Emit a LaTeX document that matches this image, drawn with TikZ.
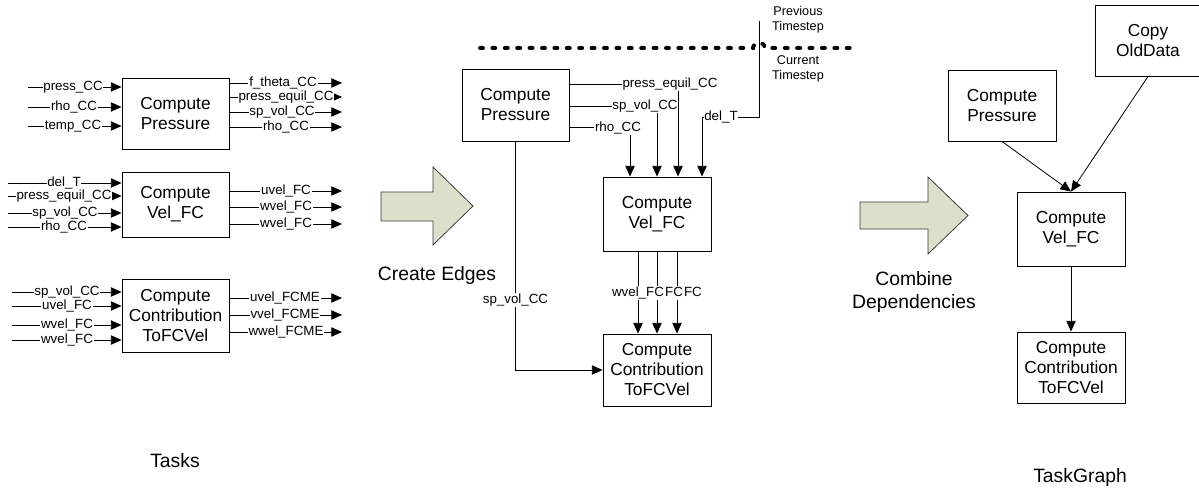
\documentclass[tikz,border=0pt]{standalone}
\usepackage{fontspec}
\setmainfont{Liberation Sans}
\usetikzlibrary{arrows.meta}
\definecolor{arrowfill}{RGB}{220,223,202}
\definecolor{arrowline}{RGB}{60,60,60}

% input arrow into a task box: name, box, x start, y, label x, text
\newcommand{\taskin}[6]{%
  \coordinate (#1) at (#3,#4);
  \draw[arr] (#1) -- (#1 -| #2.west);
  \node[lbl] (#1-l) at (#5,#4) {#6};}
% output arrow out of a task box: name, box, x end, y, label x, text
\newcommand{\taskout}[6]{%
  \coordinate (#1) at (#3,#4);
  \draw[arr] (#1 -| #2.east) -- (#1);
  \node[lbl] (#1-l) at (#5,#4) {#6};}

\begin{document}
\begin{tikzpicture}[x=0.75pt,y=-0.75pt,
  task/.style={draw, line width=0.65pt, align=center, inner sep=0pt,
               font=\fontsize{13}{15}\selectfont},
  lbl/.style={fill=white, inner sep=0.6pt, font=\fontsize{10}{11}\selectfont},
  conn/.style={line width=0.6pt},
  arr/.style={conn, -{Triangle[length=8pt,width=7pt]}},
  caption/.style={align=center, font=\fontsize{14.5}{17.25}\selectfont},
  tstep/.style={align=center, font=\fontsize{9.5}{11.25}\selectfont},
  bigarrow/.style={fill=arrowfill, draw=arrowline, line width=0.6pt, line join=miter}]

\useasboundingbox (0,0) rectangle (1199,491);

% ---------------- tasks ----------------
\node[task, minimum width=80.25pt, minimum height=53.25pt] (lP) at (175.5,113.5) {Compute\\Pressure};
\node[task, minimum width=80.25pt, minimum height=48.75pt] (lV) at (175.5,204.5) {Compute\\Vel\_FC};
\node[task, minimum width=80.25pt, minimum height=54.75pt] (lC) at (175.5,315.5) {Compute\\Contribution\\ToFCVel};

\taskin{pi1}{lP}{28}{87}{73}{press\_CC}
\taskin{pi2}{lP}{28}{107}{74}{rho\_CC}
\taskin{pi3}{lP}{28}{126}{73}{temp\_CC}
\taskout{po1}{lP}{342}{83}{283}{f\_theta\_CC}
\taskout{po2}{lP}{342}{97}{286}{press\_equil\_CC}
\taskout{po3}{lP}{342}{112}{282}{sp\_vol\_CC}
\taskout{po4}{lP}{342}{127}{286}{rho\_CC}

\taskin{vi1}{lV}{8}{183}{64}{del\_T}
\taskin{vi2}{lV}{8}{196}{64}{press\_equil\_CC}
\taskin{vi3}{lV}{8}{213}{65}{sp\_vol\_CC}
\taskin{vi4}{lV}{8}{227}{64}{rho\_CC}
\taskout{vo1}{lV}{342}{191}{286}{uvel\_FC}
\taskout{vo2}{lV}{342}{207}{286}{wvel\_FC}
\taskout{vo3}{lV}{342}{224}{286}{wvel\_FC}

\taskin{ci1}{lC}{12}{292}{67}{sp\_vol\_CC}
\taskin{ci2}{lC}{12}{306}{67}{uvel\_FC}
\taskin{ci3}{lC}{12}{325}{67}{wvel\_FC}
\taskin{ci4}{lC}{12}{340}{67}{wvel\_FC}
\taskout{co1}{lC}{342}{298}{285}{uvel\_FCME}
\taskout{co2}{lC}{342}{315}{285}{vvel\_FCME}
\taskout{co3}{lC}{342}{332}{286}{wwel\_FCME}

\node[caption] (tasks) at (175,461) {Tasks};

% ---------------- create edges ----------------
\draw[bigarrow] (381,192) -- (433,192) -- (433,167) -- (473,206) -- (433,245)
  -- (433,221) -- (381,221) -- cycle;
\node[caption] (create) at (437,276) {Create Edges};

% timestep boundary
\draw[line width=3pt, dash pattern=on 2.2pt off 7.1pt, line cap=round]
  (480,48) -- (753,48) .. controls (754,41) and (764,41) .. (765,48) -- (850,48);
\node[tstep] (prev) at (798,19.5) {Previous\\Timestep};
\node[tstep] (curr) at (798,68.5) {Current\\Timestep};

\node[task, minimum width=80.25pt, minimum height=54pt] (mP) at (515.5,105) {Compute\\Pressure};
\node[task, minimum width=81pt, minimum height=55.5pt] (mV) at (657,214) {Compute\\Vel\_FC};
\node[task, minimum width=81pt, minimum height=54pt] (mC) at (657,370) {Compute\\Contribution\\ToFCVel};

\coordinate (pe) at (678,84);
\draw[arr] (mP.east |- pe) -- (pe) -- (pe |- mV.north);
\node[lbl] (pe-l) at (670,84) {press\_equil\_CC};
\coordinate (sv) at (657,106);
\draw[arr] (mP.east |- sv) -- (sv) -- (sv |- mV.north);
\node[lbl] (sv-l) at (645,106) {sp\_vol\_CC};
\coordinate (rh) at (630,127);
\draw[arr] (mP.east |- rh) -- (rh) -- (rh |- mV.north);
\node[lbl] (rh-l) at (618,128) {rho\_CC};

\coordinate (dtTop) at (759,21);
\coordinate (dtBend) at (759,117);
\coordinate (dtCorner) at (702,117);
\draw[arr] (dtTop) -- (dtBend) -- (dtCorner) -- (dtCorner |- mV.north);
\node[lbl] (dt-l) at (721,117) {del\_T};

\coordinate (va) at (638,293);
\coordinate (vb) at (657,293);
\coordinate (vc) at (677,293);
\draw[arr] (va |- mV.south) -- (va |- mC.north);
\draw[arr] (vb |- mV.south) -- (vb |- mC.north);
\draw[arr] (vc |- mV.south) -- (vc |- mC.north);
\node[lbl] (vc-l) at (vc) {uvel\_FC};
\node[lbl] (vb-l) at (vb) {wvel\_FC};
\node[lbl] (va-l) at (va) {wvel\_FC};

\draw[arr] (mP.south) |- (mC.west);
\node[lbl] (spv-l) at (515.5,300) {sp\_vol\_CC};

% ---------------- combine dependencies ----------------
\draw[bigarrow] (860,202) -- (928,202) -- (928,177) -- (968,215.5) -- (928,254)
  -- (928,229) -- (860,229) -- cycle;
\node[caption] (combine) at (914,292.5) {Combine\\Dependencies};

\node[task, minimum width=81pt, minimum height=53.25pt] (rP) at (1002,105.5) {Compute\\Pressure};
\node[task, minimum width=79.5pt, minimum height=53.25pt] (rO) at (1148,40.5) {Copy\\OldData};
\node[task, minimum width=81pt, minimum height=55.5pt] (rV) at (1071,229) {Compute\\Vel\_FC};
\node[task, minimum width=81pt, minimum height=53.25pt] (rC) at (1071,367.5) {Compute\\Contribution\\ToFCVel};

\draw[arr] (rP.south) -- (rV.north);
\draw[arr] (rO.south) -- (rV.north);
\draw[arr] (rV.south) -- (rC.north);

\node[caption] (graph) at (1080,478) {TaskGraph};
\end{tikzpicture}
\end{document}
